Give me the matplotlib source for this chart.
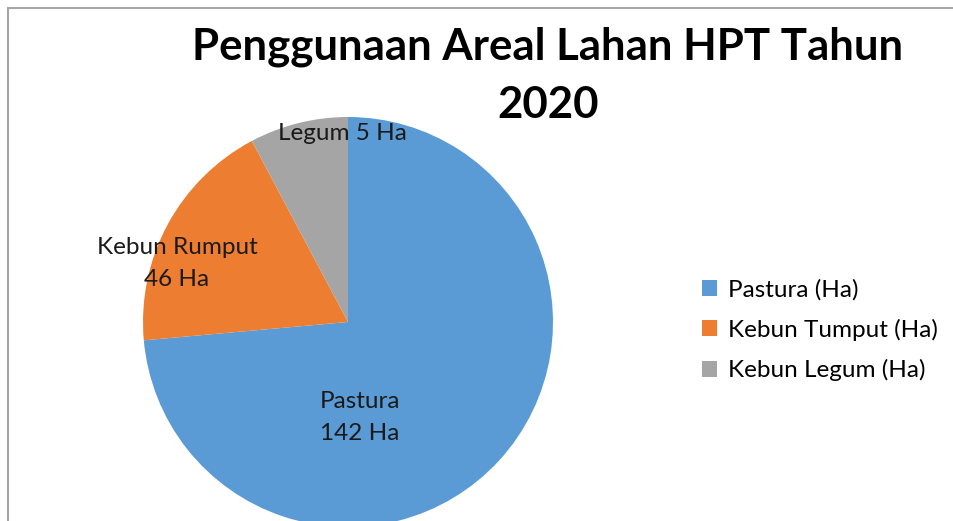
import matplotlib
matplotlib.use("Agg")
import matplotlib.pyplot as plt
from matplotlib.patches import Rectangle, Patch

plt.rcParams['font.family'] = ['Lato', 'DejaVu Sans']

# Data
categories = ["Pastura (Ha)", "Kebun Tumput (Ha)", "Kebun Legum (Ha)"]
slice_values = [142, 36, 15]          # wedge sizes as drawn in the picture
slice_labels = ["Pastura\n142 Ha", "Kebun Rumput\n46 Ha", "Legum 5 Ha"]
colors = ["#5B9BD5", "#ED7D31", "#A5A5A5"]
title_lines = ["Penggunaan Areal Lahan HPT Tahun", "2020"]

W, H = 954, 521
fig = plt.figure(figsize=(W / 100, H / 100), dpi=100)
ax = fig.add_axes([0, 0, 1, 1])

# frame
fig.patches.append(Rectangle((8 / W, -0.1), 1.2, (H - 8) / H + 0.1,
                             transform=fig.transFigure, fill=False,
                             edgecolor="#A6A6A6", linewidth=1.5))

cx, cy, r = 348, H - 322, 205
ax.pie(slice_values, colors=colors, startangle=90,
       counterclock=False, center=(cx, cy), radius=r,
       frame=True, wedgeprops=dict(linewidth=0))
ax.set_xlim(0, W)
ax.set_ylim(0, H)
ax.set_aspect('equal')
ax.axis('off')

label_pos = [(360, H - 402), (177, H - 248), (342, H - 134)]
line_gap = 32
for txt, (x, y) in zip(slice_labels, label_pos):
    for i, line in enumerate(txt.split("\n")):
        ax.text(x, y - i * line_gap, line, ha='center', va='center',
                fontsize=17.5, color='#1a1a1a')

for i, line in enumerate(title_lines):
    ax.text(548, H - 47 - i * 58, line, ha='center', va='center',
            fontsize=31.5, fontweight='bold', color='black')

handles = [Patch(facecolor=c, edgecolor='none') for c in colors]
fig.legend(handles, categories, loc='center left',
           bbox_to_anchor=(702 / W, 1 - 330 / H), frameon=False,
           fontsize=17.5, handlelength=0.62, handleheight=0.62,
           handletextpad=0.45, labelspacing=0.76, borderaxespad=0,
           borderpad=0)

fig.savefig("out.png", dpi=100)
